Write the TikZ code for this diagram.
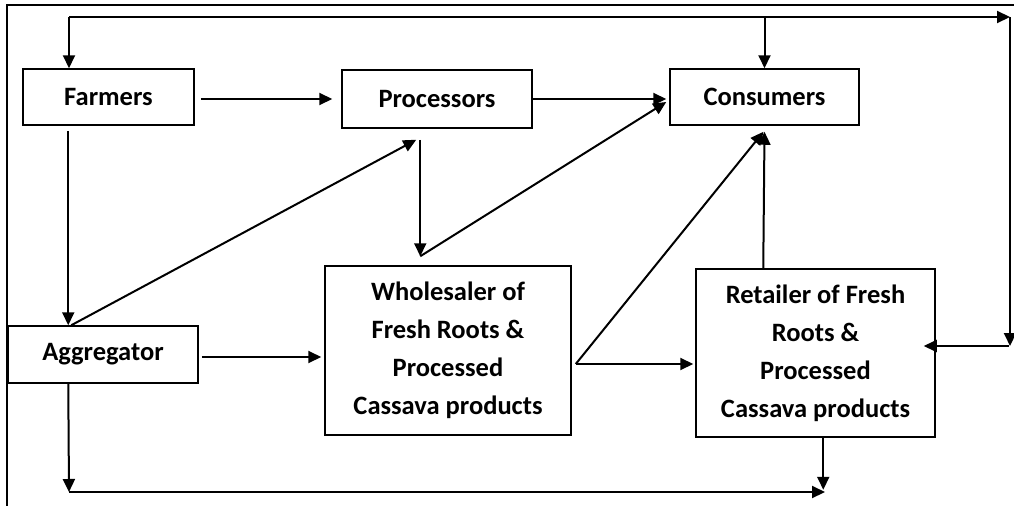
\documentclass[tikz,border=0pt]{standalone}
\usepackage{fontspec}
\setmainfont{Carlito}
\usetikzlibrary{arrows.meta,calc}
\begin{document}
\begin{tikzpicture}[x=1pt,y=-1pt,
  box/.style={draw, line width=1.5pt, align=center, inner sep=0pt,
    font=\fontsize{26.5}{38}\selectfont\bfseries},
  arr/.style={line width=2pt, -{Triangle[length=13pt,width=12pt]}}]
\useasboundingbox (0,0) rectangle (1014,506);
\draw[line width=2.5pt] (1014,5) -- (7,5) -- (7,506);
% nodes
\node[box, minimum width=171pt, minimum height=56pt] (farm) at (108.5,97) {Farmers};
\node[box, minimum width=190pt, minimum height=58pt] (proc) at (437,99) {Processors};
\node[box, minimum width=189pt, minimum height=56pt] (cons) at (764.5,97) {Consumers};
\node[box, minimum width=190pt, minimum height=57pt] (agg) at (103,354.5) {Aggregator};
\node[box, minimum width=246pt, minimum height=169pt] (whole) at (448,350.5)
  {Wholesaler of\\Fresh Roots \&\\Processed\\Cassava products};
\node[box, minimum width=239pt, minimum height=168pt] (ret) at (815.5,353)
  {Retailer of Fresh\\Roots \&\\Processed\\Cassava products};
% free coordinates
\coordinate (tl) at (69,17);
\coordinate (tr) at (1010,17);
\coordinate (br) at (1009,346);
\coordinate (bl) at (69,492);
\coordinate (bre) at (825,492);
\coordinate (wsplit) at ($(whole.east)+(4,13.5)$);
% connectors
\draw[arr, shorten <=6pt, shorten >=9pt] ($(farm.east)+(0,2)$) -- ($(proc.west)+(0,0)$);
\draw[arr, shorten >=3pt] (proc.east) -- (proc.east -| cons.west);
\draw[arr, shorten <=5pt] ($(farm.south west)+(46,0)$) -- ($(agg.north west)+(61,0)$);
\draw[arr] ($(agg.north west)+(64,0)$) -- ($(proc.south west)+(75,11)$);
\draw[arr] ($(proc.south west)+(79,11)$) coordinate (pz) -- ($(whole.north west)+(96,-9)$) coordinate (wz);
\draw[arr] (wz) -- ($(cons.west)+(-3,5)$);
\draw[arr, shorten <=3pt, shorten >=3pt] ($(agg.east)+(0,2.5)$) -- ($(whole.west)+(0,6.5)$);
\draw[arr, shorten >=2pt] (wsplit) -- (wsplit -| ret.west);
\draw[arr] (wsplit) -- ($(cons.south)+(-1,6)$);
\draw[arr] ($(ret.north west)+(68,0)$) -- ($(cons.south)+(0,6)$);
% top loop
\draw[arr] (tl) -- (tr);
\draw[arr] (tl) -- (tl |- farm.north);
\draw[arr] (cons.north |- tl) -- (cons.north);
\draw[arr] (tr) -- (tr |- br);
\draw[arr] (br) -- ($(ret.east)+(-12,-7)$);
% bottom
\draw[arr] ($(agg.south west)+(61,0)$) -- (bl);
\draw[arr] (bl) -- (bre);
\draw[arr] ($(ret.south west)+(128,0)$) -- ($(ret.south west)+(128,52)$);
\end{tikzpicture}
\end{document}
